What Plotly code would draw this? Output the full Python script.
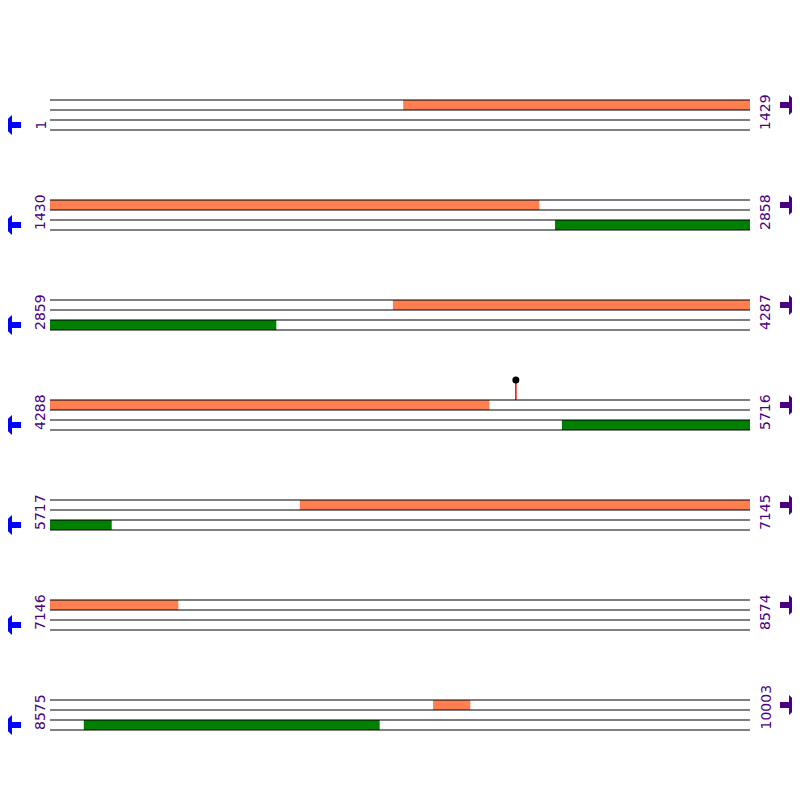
import plotly.graph_objects as go

# sequence layout
seq_len = 10003
row_len = 1429
row_starts = [1, 1430, 2859, 4288, 5717, 7146, 8575]
row_ends = [1429, 2858, 4287, 5716, 7145, 8574, 10003]

# features (absolute positions)
orange_starts = [722, 3559, 6227, 9357]
orange_ends = [2428, 5184, 7407, 9432]
green_starts = [2461, 5333, 8644]
green_ends = [3320, 5842, 9247]
site_pos = [5239]

ORANGE = "#FF7F50"
GREEN = "#008000"
PURPLE = "#4B0082"

OFF = 8  # page body margin
W = 800 - OFF


def px(p):
    # reference pixel -> paper fraction
    return (p - OFF) / W


fig = go.Figure()
shapes = []
annotations = []


def add_feature(start, end, y0, y1, color):
    for i, rs in enumerate(row_starts):
        re_ = row_ends[i]
        s = max(start, rs)
        e = min(end, re_)
        if s > e:
            continue
        base = 100 + 100 * i
        shapes.append(dict(type="rect", xref="x", yref="y",
                           x0=s - rs, x1=e - rs + 1,
                           y0=base + y0, y1=base + y1,
                           fillcolor=color, line=dict(width=0), layer="below"))


for s, e in zip(orange_starts, orange_ends):
    add_feature(s, e, 0, 10, ORANGE)
for s, e in zip(green_starts, green_ends):
    add_feature(s, e, 20, 30, GREEN)


def arrow(tip, back, stem_end, py, color):
    return dict(type="path", xref="paper", yref="y",
                path=f"M {px(tip)} {py} L {px(back)} {py-10} L {px(back)} {py-3} "
                     f"L {px(stem_end)} {py-3} L {px(stem_end)} {py+3} "
                     f"L {px(back)} {py+3} L {px(back)} {py+10} Z",
                fillcolor=color, line=dict(width=0))


for i, rs in enumerate(row_starts):
    base = 100 + 100 * i
    length = row_ends[i] - rs + 1
    for dy in [0, 10, 20, 30]:
        shapes.append(dict(type="line", xref="x", yref="y", x0=0, x1=length,
                           y0=base + dy, y1=base + dy,
                           line=dict(color="black", width=1)))
    shapes.append(arrow(1, 12, 21, base + 25, "blue"))
    shapes.append(arrow(800, 789, 780, base + 5, PURPLE))
    annotations.append(dict(xref="paper", yref="y", x=px(40), y=base + 32,
                            text=str(rs), textangle=-90, showarrow=False,
                            xanchor="center", yanchor="bottom",
                            font=dict(size=14, color=PURPLE, family="DejaVu Sans")))
    annotations.append(dict(xref="paper", yref="y", x=px(765), y=base + 32,
                            text=str(row_ends[i]), textangle=-90, showarrow=False,
                            xanchor="center", yanchor="bottom",
                            font=dict(size=14, color=PURPLE, family="DejaVu Sans")))

# site lollipop
for p in site_pos:
    for i, rs in enumerate(row_starts):
        if rs <= p <= row_ends[i]:
            base = 100 + 100 * i
            fig.add_trace(go.Scatter(x=[p - rs, p - rs], y=[base, base - 20],
                                     mode="lines", line=dict(color="red", width=1.5),
                                     showlegend=False, hoverinfo="skip"))
            fig.add_trace(go.Scatter(x=[p - rs], y=[base - 20], mode="markers",
                                     marker=dict(color="black", size=7),
                                     showlegend=False))

s = 700 / row_len
fig.update_layout(
    width=W, height=W, margin=dict(l=0, r=0, t=0, b=0),
    plot_bgcolor="white", paper_bgcolor="white",
    shapes=shapes, annotations=annotations,
    xaxis=dict(range=[(OFF - 50) / s, 750 / s], visible=False, fixedrange=True),
    yaxis=dict(range=[800, OFF], visible=False, fixedrange=True),
)
fig.write_html("out.html")
